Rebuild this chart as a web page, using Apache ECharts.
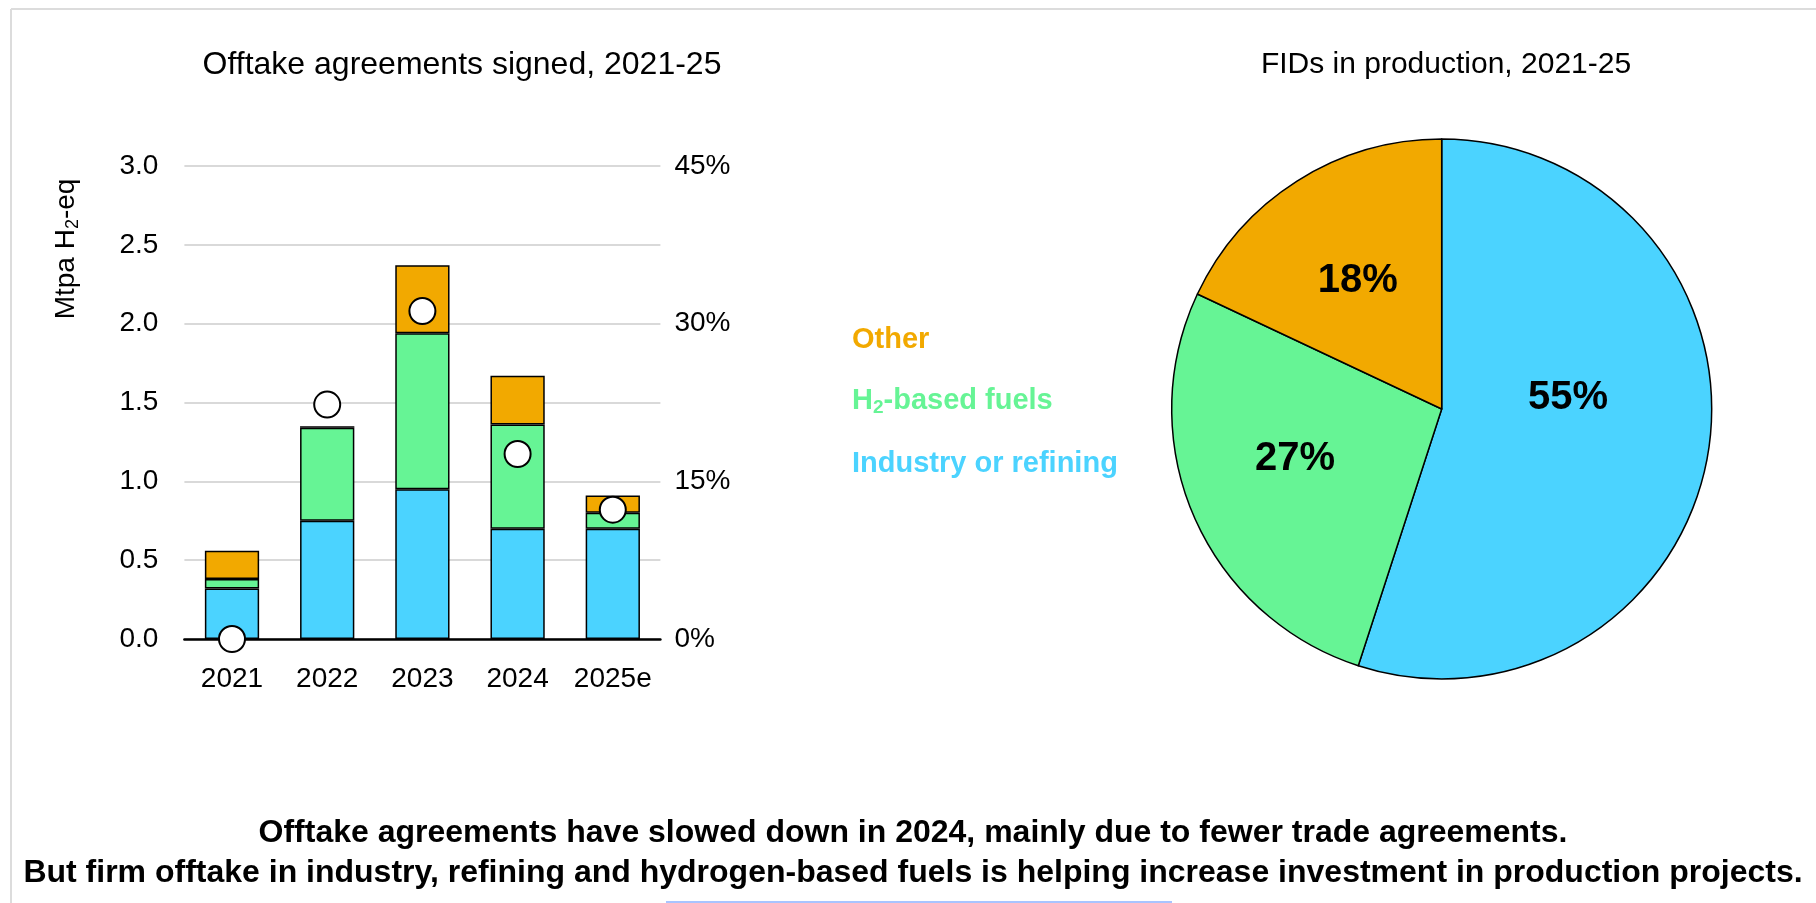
<!DOCTYPE html>
<html>
<head>
<meta charset="utf-8">
<title>Hydrogen offtake and FIDs</title>
<script src="https://cdn.jsdelivr.net/npm/echarts@6/dist/echarts.min.js"></script>
<style>
  html, body { margin: 0; padding: 0; background: #fff; }
  #chart { width: 1816px; height: 903px; }
</style>
</head>
<body>
<div id="chart"></div>
<script>
// 数据
const years = ['2021', '2022', '2023', '2024', '2025e'];
const industryRefining = [0.32, 0.75, 0.95, 0.70, 0.70];
const h2Fuels = [0.06, 0.59, 0.99, 0.66, 0.10];
const other = [0.18, 0.01, 0.43, 0.31, 0.11];
const tradeShare = [0, 22.3, 31.2, 17.6, 12.3];   // right axis, %

const pieNames = ['Industry or refining', 'H2-based fuels', 'Other'];
const pieShares = [55, 27, 18];

const leftTicks = [0, 3, 0.5];   // min, max, interval
const rightTicks = [0, 45, 15];

const FONT = '"Liberation Sans", Arial, sans-serif';
const BLUE = '#4BD3FF';
const GREEN = '#66F495';
const ORANGE = '#F2A900';

const myChart = echarts.init(document.getElementById('chart'));

const barStyle = { borderColor: '#000', borderWidth: 1.5 };
const subRich = {
  m: { fontFamily: FONT, fontSize: 29, fontWeight: 'bold', lineHeight: 32 },
  s: { fontFamily: FONT, fontSize: 19, fontWeight: 'bold', lineHeight: 32, padding: [14, 0, 0, 0] }
};

const option = {
  animation: false,
  textStyle: { fontFamily: FONT },
  title: [
    {
      text: 'Offtake agreements signed, 2021-25',
      left: 457, top: 44, textAlign: 'center',
      textStyle: { fontFamily: FONT, fontSize: 32, fontWeight: 'normal', color: '#000' }
    },
    {
      text: 'FIDs in production, 2021-25',
      left: 1441, top: 45, textAlign: 'center',
      textStyle: { fontFamily: FONT, fontSize: 30, fontWeight: 'normal', color: '#000' }
    },
    {
      text: 'Offtake agreements have slowed down in 2024, mainly due to fewer trade agreements.\nBut firm offtake in industry, refining and hydrogen-based fuels is helping increase investment in production projects.',
      left: 908, top: 808, textAlign: 'center',
      textStyle: { fontFamily: FONT, fontSize: 32, fontWeight: 'bold', color: '#000', lineHeight: 40 }
    }
  ],
  legend: {
    orient: 'vertical',
    left: 842, top: 319,
    icon: 'none',
    itemWidth: 0, itemHeight: 32, itemGap: 30,
    selectedMode: false,
    data: [
      { name: 'Other', textStyle: { color: ORANGE } },
      { name: 'H2-based fuels', textStyle: { color: GREEN } },
      { name: 'Industry or refining', textStyle: { color: BLUE } }
    ],
    formatter: function (name) {
      if (name === 'H2-based fuels') return '{m|H}{s|2}{m|-based fuels}';
      return '{m|' + name + '}';
    },
    textStyle: { fontFamily: FONT, fontSize: 29, fontWeight: 'bold', rich: subRich }
  },
  grid: { left: 184.4, right: 1816 - 660.4, top: 166, height: 473, containLabel: false },
  xAxis: {
    type: 'category',
    data: years,
    axisLine: { lineStyle: { color: '#000', width: 2.5 } },
    axisTick: { show: false },
    axisLabel: { fontFamily: FONT, fontSize: 28, color: '#000', margin: 26, interval: 0 }
  },
  yAxis: [
    {
      type: 'value',
      min: leftTicks[0], max: leftTicks[1], interval: leftTicks[2],
      axisLine: { show: false },
      axisTick: { show: false },
      splitLine: { lineStyle: { color: '#d9d9d9', width: 2 } },
      axisLabel: {
        fontFamily: FONT, fontSize: 28, color: '#000', margin: 26,
        formatter: v => v.toFixed(1)
      }
    },
    {
      type: 'value',
      min: rightTicks[0], max: rightTicks[1], interval: rightTicks[2],
      axisLine: { show: false },
      axisTick: { show: false },
      splitLine: { show: false },
      axisLabel: { fontFamily: FONT, fontSize: 28, color: '#000', margin: 14, formatter: '{value}%' }
    }
  ],
  series: [
    {
      name: 'Industry or refining', type: 'bar', stack: 'offtake', barWidth: '57%',
      itemStyle: Object.assign({ color: BLUE }, barStyle), data: industryRefining
    },
    {
      name: 'H2-based fuels', type: 'bar', stack: 'offtake',
      itemStyle: Object.assign({ color: GREEN }, barStyle), data: h2Fuels
    },
    {
      name: 'Other', type: 'bar', stack: 'offtake',
      itemStyle: Object.assign({ color: ORANGE }, barStyle), data: other
    },
    {
      name: 'Trade share', type: 'scatter', yAxisIndex: 1, z: 10,
      symbol: 'circle', symbolSize: 26,
      itemStyle: { color: '#fff', borderColor: '#000', borderWidth: 2, opacity: 1 },
      data: tradeShare
    },
    {
      name: 'FIDs', type: 'pie',
      center: [1441.7, 409], radius: 270,
      startAngle: 90, clockwise: true,
      itemStyle: { borderColor: '#000', borderWidth: 1.5 },
      label: {
        position: 'inside', formatter: '{c}%',
        fontFamily: FONT, fontSize: 40, fontWeight: 'bold', color: '#000'
      },
      labelLine: { show: false },
      // 手动微调标签位置
      labelLayout: function (params) {
        const nudge = [[-10, -33], [-20, -5], [-10, -12]];
        const d = nudge[params.dataIndex] || [0, 0];
        return { dx: d[0], dy: d[1] };
      },
      emphasis: { disabled: true },
      data: pieNames.map((n, i) => ({
        name: n, value: pieShares[i],
        itemStyle: { color: [BLUE, GREEN, ORANGE][i] }
      }))
    }
  ],
  graphic: [
    {
      type: 'text', x: 66, y: 249, rotation: Math.PI / 2,
      style: {
        text: '{m|Mtpa H}{s|2}{m|-eq}',
        align: 'center', verticalAlign: 'middle',
        fill: '#000',
        rich: {
          m: { fontFamily: FONT, fontSize: 28, lineHeight: 32 },
          s: { fontFamily: FONT, fontSize: 18, lineHeight: 32, padding: [14, 0, 0, 0] }
        }
      }
    },
    { type: 'line', shape: { x1: 11, y1: 9, x2: 1816, y2: 9 }, style: { stroke: '#dcdcdc', lineWidth: 2 } },
    { type: 'line', shape: { x1: 11, y1: 9, x2: 11, y2: 903 }, style: { stroke: '#dcdcdc', lineWidth: 2 } },
    { type: 'line', shape: { x1: 666, y1: 902, x2: 1172, y2: 902 }, style: { stroke: '#a9c4ff', lineWidth: 2 } }
  ]
};

myChart.setOption(option);
</script>
</body>
</html>
